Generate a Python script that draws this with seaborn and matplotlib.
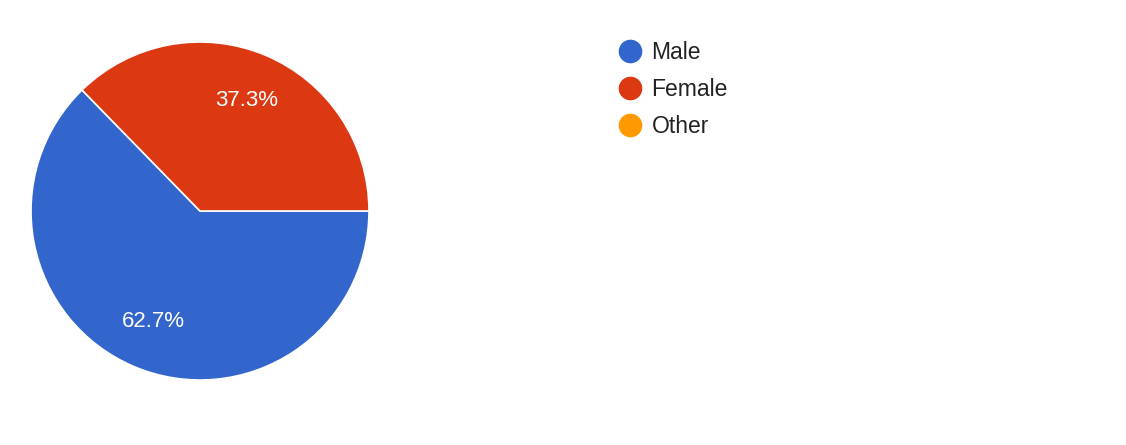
import matplotlib
matplotlib.use("Agg")
import matplotlib.pyplot as plt
from matplotlib.lines import Line2D
import seaborn as sns

# data
categories = ["Male", "Female", "Other"]
shares = [62.7, 37.3, 0.0]
colors = ["#3366cc", "#dc3912", "#ff9900"]

sns.set_theme(style="white")
plt.rcParams["font.family"] = ["Liberation Sans", "DejaVu Sans"]

W, H = 1126, 445
fig = plt.figure(figsize=(W / 100, H / 100), dpi=100)
cx, cy, r = 200, 211, 169
ax = fig.add_axes([(cx - r) / W, (H - cy - r) / H, 2 * r / W, 2 * r / H])

# drop the empty slice from the pie itself, it only shows in the legend
pie_vals = [v for v in shares if v > 0]
pie_cols = [c for v, c in zip(shares, colors) if v > 0]
wedges, texts, autotexts = ax.pie(
    pie_vals, colors=pie_cols, startangle=0, counterclock=False,
    autopct="%.1f%%", pctdistance=0.71, radius=1,
    wedgeprops=dict(edgecolor="white", linewidth=1.2),
    textprops=dict(color="white", fontsize=16),
)
ax.set_xlim(-1, 1)
ax.set_ylim(-1, 1)
ax.set_aspect("equal")
ax.axis("off")

handles = [Line2D([], [], marker="o", linestyle="", markersize=16,
                  markerfacecolor=c, markeredgecolor=c) for c in colors]
fig.legend(handles, categories, loc="upper left",
           bbox_to_anchor=(619 / W, 1 - 41 / H), frameon=False,
           fontsize=16.5, labelcolor="#222222", handlelength=1.0,
           handletextpad=0.42, labelspacing=0.62, borderpad=0, borderaxespad=0)

fig.savefig("out.png", dpi=100, facecolor="white")
